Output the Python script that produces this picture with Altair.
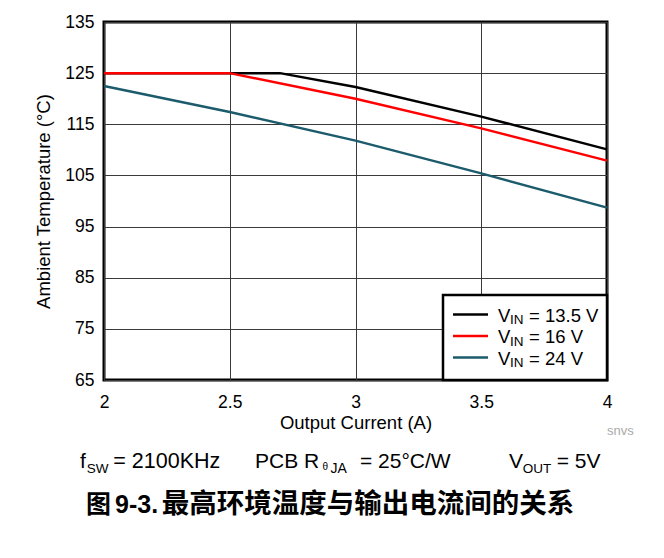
import altair as alt
import pandas as pd

# ---- data ----
vin_labels = ["13.5 V", "16 V", "24 V"]
colors = ["#000000", "#ff0000", "#1b5b6b"]

current_135 = [2.0, 2.7, 3.0, 3.5, 4.0]
temp_135 = [125.0, 125.0, 122.3, 116.5, 110.1]

current_16 = [2.0, 2.5, 3.0, 3.5, 4.0]
temp_16 = [125.0, 125.0, 120.0, 114.2, 107.9]

current_24 = [2.0, 2.5, 3.0, 3.5, 4.0]
temp_24 = [122.5, 117.4, 111.8, 105.4, 98.7]

x_ticks = [2, 2.5, 3, 3.5, 4]
y_ticks = [65, 75, 85, 95, 105, 115, 125, 135]

FONT = "Liberation Sans, Arial, Helvetica, sans-serif"
CJK = "Liberation Sans, Noto Sans CJK SC, sans-serif"

rows = []
for lab, xs, ys in [(vin_labels[0], current_135, temp_135),
                    (vin_labels[1], current_16, temp_16),
                    (vin_labels[2], current_24, temp_24)]:
    for xv, yv in zip(xs, ys):
        rows.append({"I": xv, "T": yv, "series": lab})
df = pd.DataFrame(rows)

W, H = 503, 358

lines = alt.Chart(df).mark_line(strokeWidth=2.5).encode(
    x=alt.X("I:Q", scale=alt.Scale(domain=[2, 4], nice=False),
            axis=alt.Axis(values=x_ticks, format="~g", title="Output Current (A)",
                          labelPadding=13, labelFlush=False,
                          titleY=33, titleX=W / 2, titleBaseline="top", titleAlign="center")),
    y=alt.Y("T:Q", scale=alt.Scale(domain=[65, 135], nice=False, zero=False),
            axis=alt.Axis(values=y_ticks, title="Ambient Temperature (°C)",
                          labelPadding=10, labelFlush=False,
                          titleX=-51, titleY=H / 2, titleAngle=-90,
                          titleBaseline="bottom", titleAlign="center")),
    color=alt.Color("series:N", scale=alt.Scale(domain=vin_labels, range=colors), legend=None),
)

one = pd.DataFrame({"a": [0]})


def txt(s, x, y, size, color="black", weight="normal", align="left", font=FONT):
    return alt.Chart(pd.DataFrame({"t": [s]})).mark_text(
        align=align, baseline="alphabetic", font=font, fontSize=size,
        fontWeight=weight, color=color
    ).encode(x=alt.value(x), y=alt.value(y), text="t:N")


layers = [lines]

# legend box
legend_left, legend_top = 339, 273
layers.append(alt.Chart(one).mark_rect(fill="white", stroke="black", strokeWidth=2.5).encode(
    x=alt.value(legend_left), x2=alt.value(W), y=alt.value(legend_top), y2=alt.value(H)))

for i, (lab, col) in enumerate(zip(vin_labels, colors)):
    ly = legend_top + 19.5 + i * 21.5
    layers.append(alt.Chart(one).mark_rule(strokeWidth=2.5, color=col).encode(
        x=alt.value(legend_left + 10), x2=alt.value(legend_left + 45), y=alt.value(ly)))
    layers.append(txt("V", legend_left + 55, ly + 7, 18.5))
    layers.append(txt("IN", legend_left + 67, ly + 9.5, 13.5))
    layers.append(txt("= " + lab, legend_left + 86, ly + 7, 18.5))

# source tag
layers.append(txt("snvs", 503, 413, 13, color="#aaaaaa"))

# conditions line
base_y = 446
sub_y = 450.5
layers += [
    txt("f", -24, base_y, 21),
    txt("SW", -17.3, sub_y, 13.5),
    txt("= 2100KHz", 9.3, base_y, 21.5),
    txt("PCB R", 151, base_y, 21),
    txt("θ", 218.5, base_y + 2, 10),
    txt("JA", 226.5, sub_y, 14),
    txt("= 25°C/W", 256, base_y, 21),
    txt("V", 405, base_y, 21),
    txt("OUT", 418.7, sub_y, 13.5),
    txt("= 5V", 452.7, base_y, 21),
]

# caption
cap_y = 491
layers += [
    txt("图", -18, cap_y, 25, weight="bold", font=CJK),
    txt("9-3.", 11, cap_y, 25, weight="bold", font=CJK),
    txt("最高环境温度与输出电流间的关系", 57.7, cap_y, 27.5, weight="bold", font=CJK),
]

chart = alt.layer(*layers).properties(
    width=W, height=H,
    autosize=alt.AutoSizeParams(type="none"),
    padding={"left": 96, "top": 14, "right": 49, "bottom": 170},
    background="white",
).configure_view(
    stroke="black", strokeWidth=3
).configure_axis(
    labelFont=FONT, labelFontSize=17.5, labelColor="black",
    titleFont=FONT, titleFontSize=18.5, titleFontWeight="normal", titleColor="black",
    grid=True, gridColor="#3a3a3a", gridWidth=1, gridOpacity=1,
    ticks=False, domain=False,
)

chart.save("out.html", embed_options={"renderer": "svg", "actions": False})
